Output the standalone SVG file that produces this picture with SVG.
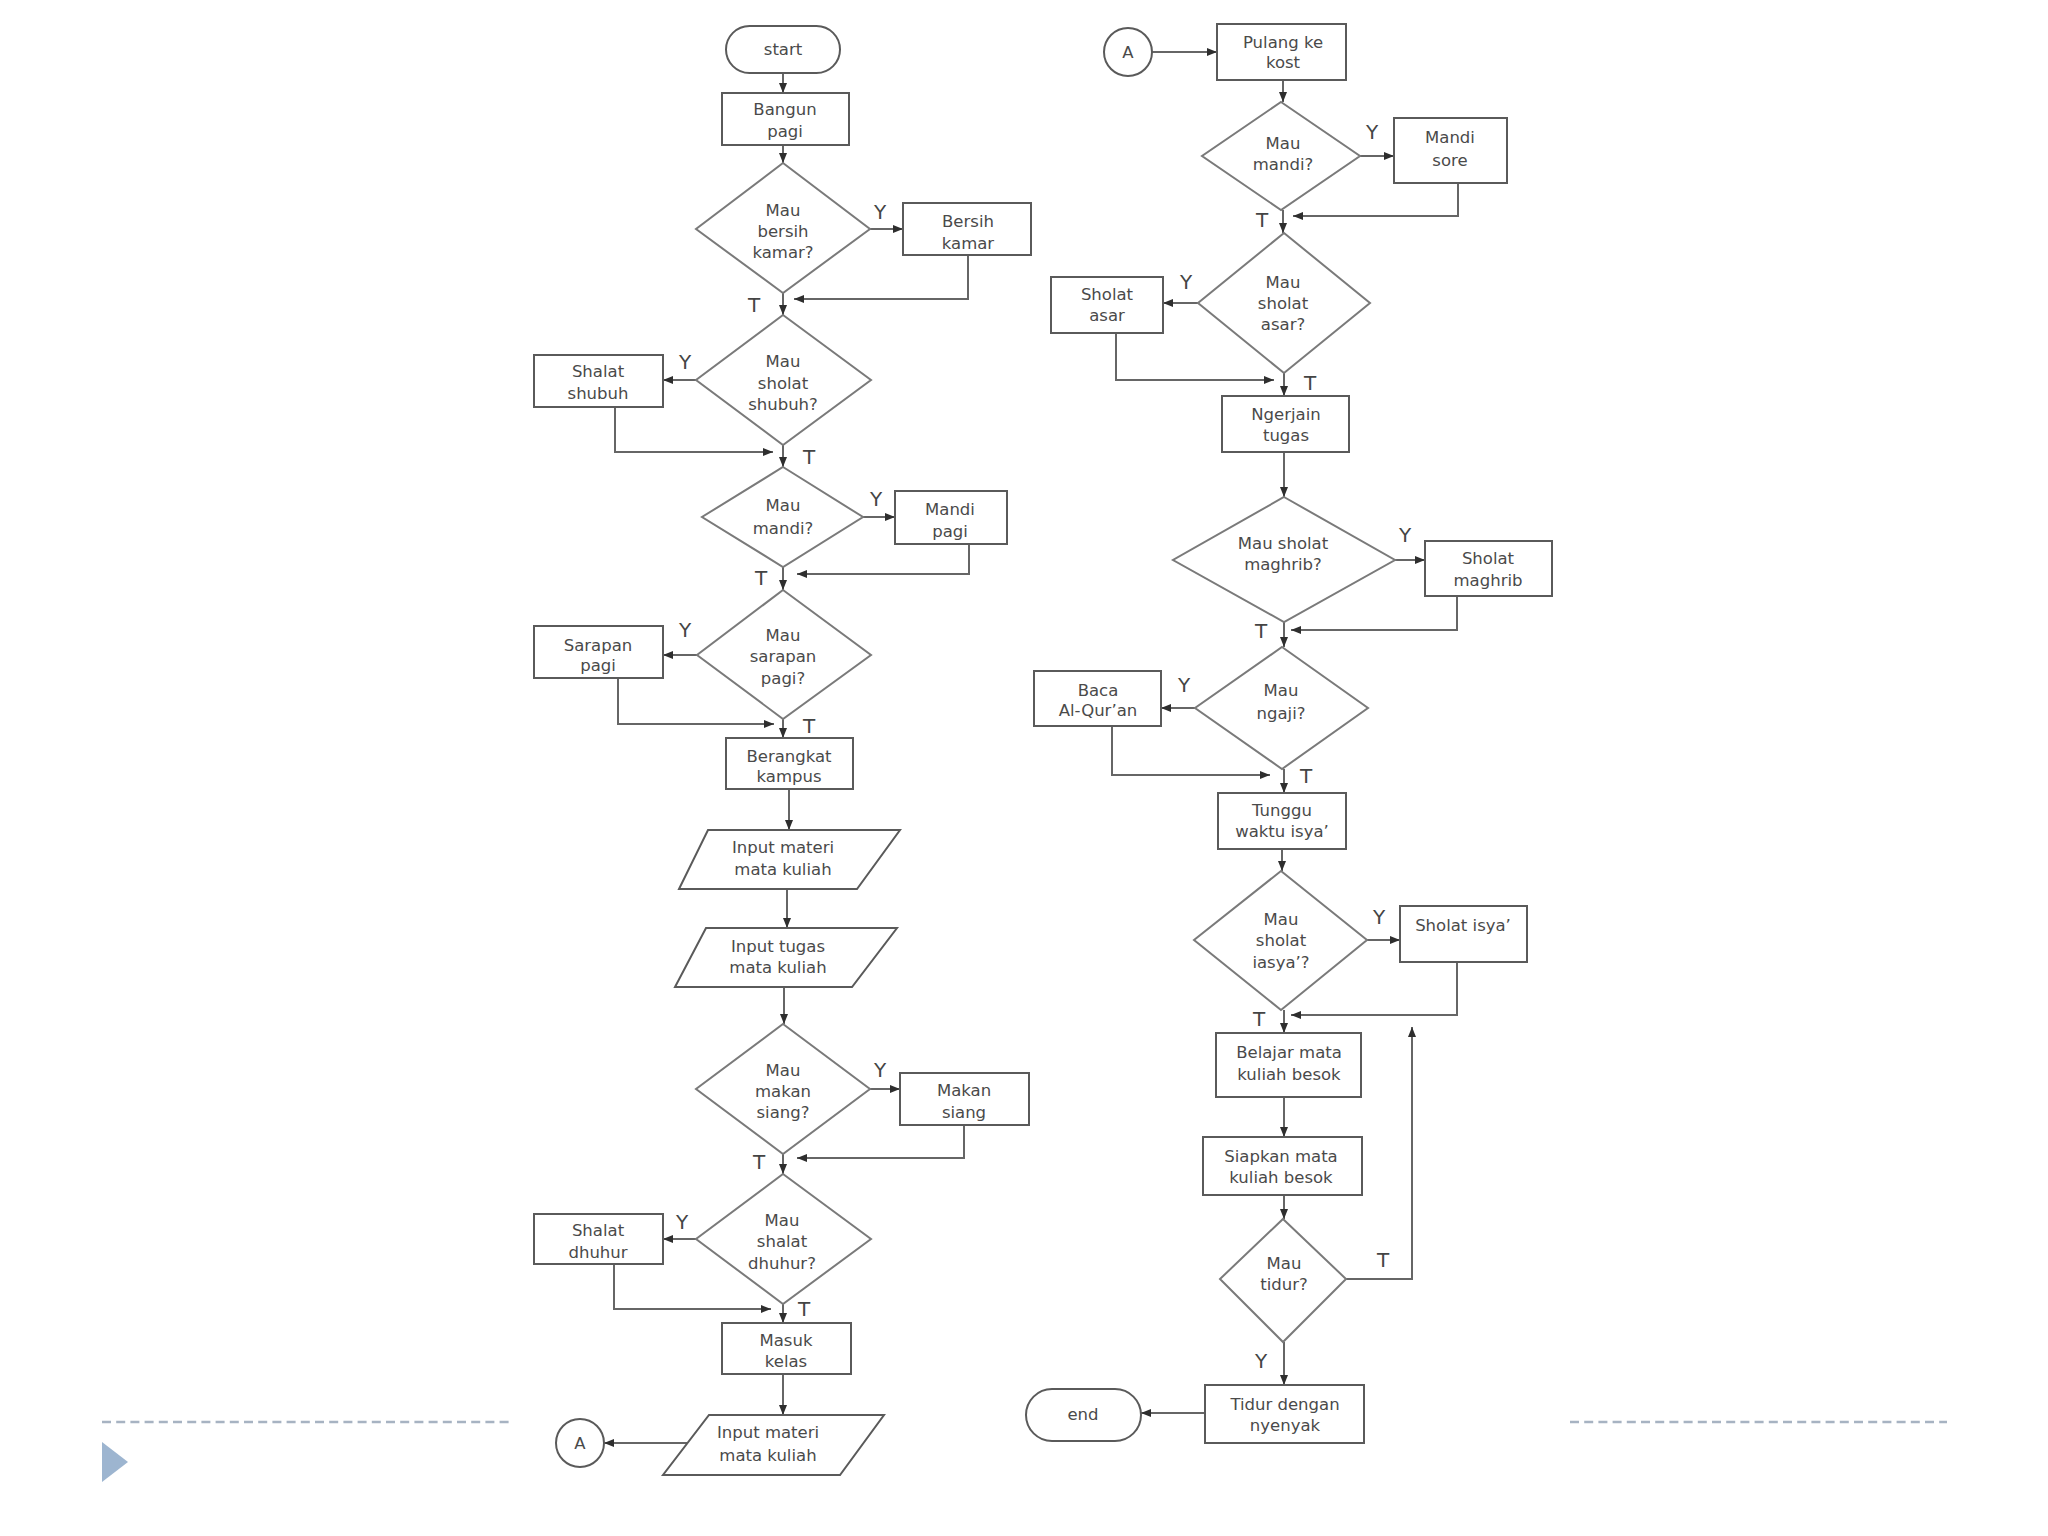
<svg xmlns="http://www.w3.org/2000/svg" width="2048" height="1536" viewBox="0 0 2048 1536">
<defs>
<marker id="arr" markerUnits="userSpaceOnUse" markerWidth="10" markerHeight="8" refX="10" refY="4" orient="auto">
<path d="M0,0 L10,4 L0,8 z" fill="#2e2e2e"/>
</marker>
</defs>
<style>
.box{fill:#fff;stroke:#5a5a5a;stroke-width:2}
.dia{fill:#fff;stroke:#7a7a7a;stroke-width:2}
.t{font-family:"DejaVu Sans",sans-serif;font-size:16.5px;fill:#4a4a4a;text-anchor:middle;dominant-baseline:central}
.l{font-family:"DejaVu Sans",sans-serif;font-size:20px;fill:#444;text-anchor:middle;dominant-baseline:central}
.c{fill:none;stroke:#666;stroke-width:2;marker-end:url(#arr)}
.dash{stroke:#a7b3c2;stroke-width:2.5;stroke-dasharray:9 5.2}
</style>
<rect width="2048" height="1536" fill="#fff"/>
<line class="dash" x1="102" y1="1422" x2="513" y2="1422"/>
<line class="dash" x1="1570" y1="1422" x2="1947" y2="1422"/>
<polygon points="102,1442 128,1462 102,1482" fill="#9db5d0"/>

<g id="connectors">
<path class="c" d="M783,73 L783,93"/>
<path class="c" d="M783,145 L783,163"/>
<path class="c" d="M870,229 L903,229"/>
<path class="c" d="M968,255 L968,299 L794,299"/>
<path class="c" d="M783,293 L783,315"/>
<path class="c" d="M696,380 L663,380"/>
<path class="c" d="M615,407 L615,452 L773,452"/>
<path class="c" d="M783,445 L783,467"/>
<path class="c" d="M863,517 L895,517"/>
<path class="c" d="M969,544 L969,574 L797,574"/>
<path class="c" d="M783,567 L783,590"/>
<path class="c" d="M697,655 L663,655"/>
<path class="c" d="M618,678 L618,724 L774,724"/>
<path class="c" d="M783,719 L783,738"/>
<path class="c" d="M789,789 L789,830"/>
<path class="c" d="M787,889 L787,928"/>
<path class="c" d="M784,987 L784,1024"/>
<path class="c" d="M870,1089 L900,1089"/>
<path class="c" d="M964,1125 L964,1158 L797,1158"/>
<path class="c" d="M783,1154 L783,1174"/>
<path class="c" d="M696,1239 L663,1239"/>
<path class="c" d="M614,1264 L614,1309 L771,1309"/>
<path class="c" d="M783,1304 L783,1323"/>
<path class="c" d="M783,1374 L783,1415"/>
<path class="c" d="M687,1443 L604,1443"/>
<path class="c" d="M1152,52 L1217,52"/>
<path class="c" d="M1283,80 L1283,102"/>
<path class="c" d="M1360,156 L1394,156"/>
<path class="c" d="M1458,183 L1458,216 L1293,216"/>
<path class="c" d="M1283,210 L1283,233"/>
<path class="c" d="M1198,303 L1163,303"/>
<path class="c" d="M1116,333 L1116,380 L1274,380"/>
<path class="c" d="M1284,373 L1284,396"/>
<path class="c" d="M1284,452 L1284,497"/>
<path class="c" d="M1395,560 L1425,560"/>
<path class="c" d="M1457,596 L1457,630 L1291,630"/>
<path class="c" d="M1284,622 L1284,647"/>
<path class="c" d="M1195,708 L1161,708"/>
<path class="c" d="M1112,726 L1112,775 L1270,775"/>
<path class="c" d="M1284,769 L1284,793"/>
<path class="c" d="M1282,849 L1282,871"/>
<path class="c" d="M1367,940 L1400,940"/>
<path class="c" d="M1457,962 L1457,1015 L1291,1015"/>
<path class="c" d="M1284,1010 L1284,1033"/>
<path class="c" d="M1284,1097 L1284,1137"/>
<path class="c" d="M1284,1195 L1284,1219"/>
<path class="c" d="M1346,1279 L1412,1279 L1412,1027"/>
<path class="c" d="M1284,1342 L1284,1385"/>
<path class="c" d="M1205,1413 L1141,1413"/>
</g>

<g id="labels">
<text class="l" x="880" y="212">Y</text>
<text class="l" x="754" y="305">T</text>
<text class="l" x="685" y="362">Y</text>
<text class="l" x="809" y="457">T</text>
<text class="l" x="876" y="499">Y</text>
<text class="l" x="761" y="578">T</text>
<text class="l" x="685" y="630">Y</text>
<text class="l" x="809" y="726">T</text>
<text class="l" x="880" y="1070">Y</text>
<text class="l" x="759" y="1162">T</text>
<text class="l" x="682" y="1222">Y</text>
<text class="l" x="804" y="1309">T</text>
<text class="l" x="1372" y="132">Y</text>
<text class="l" x="1262" y="220">T</text>
<text class="l" x="1186" y="282">Y</text>
<text class="l" x="1310" y="383">T</text>
<text class="l" x="1405" y="535">Y</text>
<text class="l" x="1261" y="631">T</text>
<text class="l" x="1184" y="685">Y</text>
<text class="l" x="1306" y="776">T</text>
<text class="l" x="1379" y="917">Y</text>
<text class="l" x="1259" y="1019">T</text>
<text class="l" x="1383" y="1260">T</text>
<text class="l" x="1261" y="1361">Y</text>
</g>

<g id="start"><rect class="box" x="726" y="26" width="114" height="47" rx="23.5"/><text class="t" x="783" y="49">start</text></g>
<g id="bangun"><rect class="box" x="722" y="93" width="127" height="52"/><text class="t" x="785" y="109">Bangun</text><text class="t" x="785" y="131">pagi</text></g>
<g id="d1"><polygon class="dia" points="783,163 870,229 783,293 696,229"/><text class="t" x="783" y="210">Mau</text><text class="t" x="783" y="231">bersih</text><text class="t" x="783" y="252">kamar?</text></g>
<g id="bersih"><rect class="box" x="903" y="203" width="128" height="52"/><text class="t" x="968" y="221">Bersih</text><text class="t" x="968" y="243">kamar</text></g>
<g id="d2"><polygon class="dia" points="783,315 871,380 783,445 696,380"/><text class="t" x="783" y="361">Mau</text><text class="t" x="783" y="383">sholat</text><text class="t" x="783" y="404">shubuh?</text></g>
<g id="shubuh"><rect class="box" x="534" y="355" width="129" height="52"/><text class="t" x="598" y="371">Shalat</text><text class="t" x="598" y="393">shubuh</text></g>
<g id="d3"><polygon class="dia" points="783,467 863,517 783,567 702,517"/><text class="t" x="783" y="505">Mau</text><text class="t" x="783" y="528">mandi?</text></g>
<g id="mandipagi"><rect class="box" x="895" y="491" width="112" height="53"/><text class="t" x="950" y="509">Mandi</text><text class="t" x="950" y="531">pagi</text></g>
<g id="d4"><polygon class="dia" points="783,590 871,655 783,719 697,655"/><text class="t" x="783" y="635">Mau</text><text class="t" x="783" y="656">sarapan</text><text class="t" x="783" y="678">pagi?</text></g>
<g id="sarapan"><rect class="box" x="534" y="626" width="129" height="52"/><text class="t" x="598" y="645">Sarapan</text><text class="t" x="598" y="665">pagi</text></g>
<g id="berangkat"><rect class="box" x="726" y="738" width="127" height="51"/><text class="t" x="789" y="756">Berangkat</text><text class="t" x="789" y="776">kampus</text></g>
<g id="input1"><polygon class="box" points="708,830 900,830 857,889 679,889"/><text class="t" x="783" y="847">Input materi</text><text class="t" x="783" y="869">mata kuliah</text></g>
<g id="input2"><polygon class="box" points="706,928 897,928 852,987 675,987"/><text class="t" x="778" y="946">Input tugas</text><text class="t" x="778" y="967">mata kuliah</text></g>
<g id="d5"><polygon class="dia" points="783,1024 870,1089 783,1154 696,1089"/><text class="t" x="783" y="1070">Mau</text><text class="t" x="783" y="1091">makan</text><text class="t" x="783" y="1112">siang?</text></g>
<g id="makan"><rect class="box" x="900" y="1073" width="129" height="52"/><text class="t" x="964" y="1090">Makan</text><text class="t" x="964" y="1112">siang</text></g>
<g id="d6"><polygon class="dia" points="783,1174 871,1239 783,1304 696,1239"/><text class="t" x="782" y="1220">Mau</text><text class="t" x="782" y="1241">shalat</text><text class="t" x="782" y="1263">dhuhur?</text></g>
<g id="dhuhur"><rect class="box" x="534" y="1214" width="129" height="50"/><text class="t" x="598" y="1230">Shalat</text><text class="t" x="598" y="1252">dhuhur</text></g>
<g id="masuk"><rect class="box" x="722" y="1323" width="129" height="51"/><text class="t" x="786" y="1340">Masuk</text><text class="t" x="786" y="1361">kelas</text></g>
<g id="input3"><polygon class="box" points="709,1415 884,1415 840,1475 663,1475"/><text class="t" x="768" y="1432">Input materi</text><text class="t" x="768" y="1455">mata kuliah</text></g>
<g id="connA1"><circle class="box" cx="580" cy="1443" r="24"/><text class="t" x="580" y="1443">A</text></g>

<g id="connA2"><circle class="box" cx="1128" cy="52" r="24"/><text class="t" x="1128" y="52">A</text></g>
<g id="pulang"><rect class="box" x="1217" y="24" width="129" height="56"/><text class="t" x="1283" y="42">Pulang ke</text><text class="t" x="1283" y="62">kost</text></g>
<g id="d7"><polygon class="dia" points="1281,102 1360,156 1281,210 1202,156"/><text class="t" x="1283" y="143">Mau</text><text class="t" x="1283" y="164">mandi?</text></g>
<g id="mandisore"><rect class="box" x="1394" y="118" width="113" height="65"/><text class="t" x="1450" y="137">Mandi</text><text class="t" x="1450" y="160">sore</text></g>
<g id="d8"><polygon class="dia" points="1284,233 1370,303 1284,373 1198,303"/><text class="t" x="1283" y="282">Mau</text><text class="t" x="1283" y="303">sholat</text><text class="t" x="1283" y="324">asar?</text></g>
<g id="asar"><rect class="box" x="1051" y="277" width="112" height="56"/><text class="t" x="1107" y="294">Sholat</text><text class="t" x="1107" y="315">asar</text></g>
<g id="ngerjain"><rect class="box" x="1222" y="396" width="127" height="56"/><text class="t" x="1286" y="414">Ngerjain</text><text class="t" x="1286" y="435">tugas</text></g>
<g id="d9"><polygon class="dia" points="1284,497 1395,560 1284,622 1173,560"/><text class="t" x="1283" y="543">Mau sholat</text><text class="t" x="1283" y="564">maghrib?</text></g>
<g id="maghrib"><rect class="box" x="1425" y="541" width="127" height="55"/><text class="t" x="1488" y="558">Sholat</text><text class="t" x="1488" y="580">maghrib</text></g>
<g id="d10"><polygon class="dia" points="1282,647 1368,708 1282,769 1195,708"/><text class="t" x="1281" y="690">Mau</text><text class="t" x="1281" y="713">ngaji?</text></g>
<g id="baca"><rect class="box" x="1034" y="671" width="127" height="55"/><text class="t" x="1098" y="690">Baca</text><text class="t" x="1098" y="710">Al-Qur’an</text></g>
<g id="tunggu"><rect class="box" x="1218" y="793" width="128" height="56"/><text class="t" x="1282" y="810">Tunggu</text><text class="t" x="1282" y="831">waktu isya’</text></g>
<g id="d11"><polygon class="dia" points="1281,871 1367,940 1281,1010 1194,940"/><text class="t" x="1281" y="919">Mau</text><text class="t" x="1281" y="940">sholat</text><text class="t" x="1281" y="962">iasya’?</text></g>
<g id="isya"><rect class="box" x="1400" y="906" width="127" height="56"/><text class="t" x="1463" y="925">Sholat isya’</text></g>
<g id="belajar"><rect class="box" x="1216" y="1033" width="145" height="64"/><text class="t" x="1289" y="1052">Belajar mata</text><text class="t" x="1289" y="1074">kuliah besok</text></g>
<g id="siapkan"><rect class="box" x="1203" y="1137" width="159" height="58"/><text class="t" x="1281" y="1156">Siapkan mata</text><text class="t" x="1281" y="1177">kuliah besok</text></g>
<g id="d12"><polygon class="dia" points="1283,1219 1346,1279 1283,1342 1220,1279"/><text class="t" x="1284" y="1263">Mau</text><text class="t" x="1284" y="1284">tidur?</text></g>
<g id="tidur"><rect class="box" x="1205" y="1385" width="159" height="58"/><text class="t" x="1285" y="1404">Tidur dengan</text><text class="t" x="1285" y="1425">nyenyak</text></g>
<g id="end"><rect class="box" x="1026" y="1389" width="115" height="52" rx="26"/><text class="t" x="1083" y="1414">end</text></g>
</svg>
